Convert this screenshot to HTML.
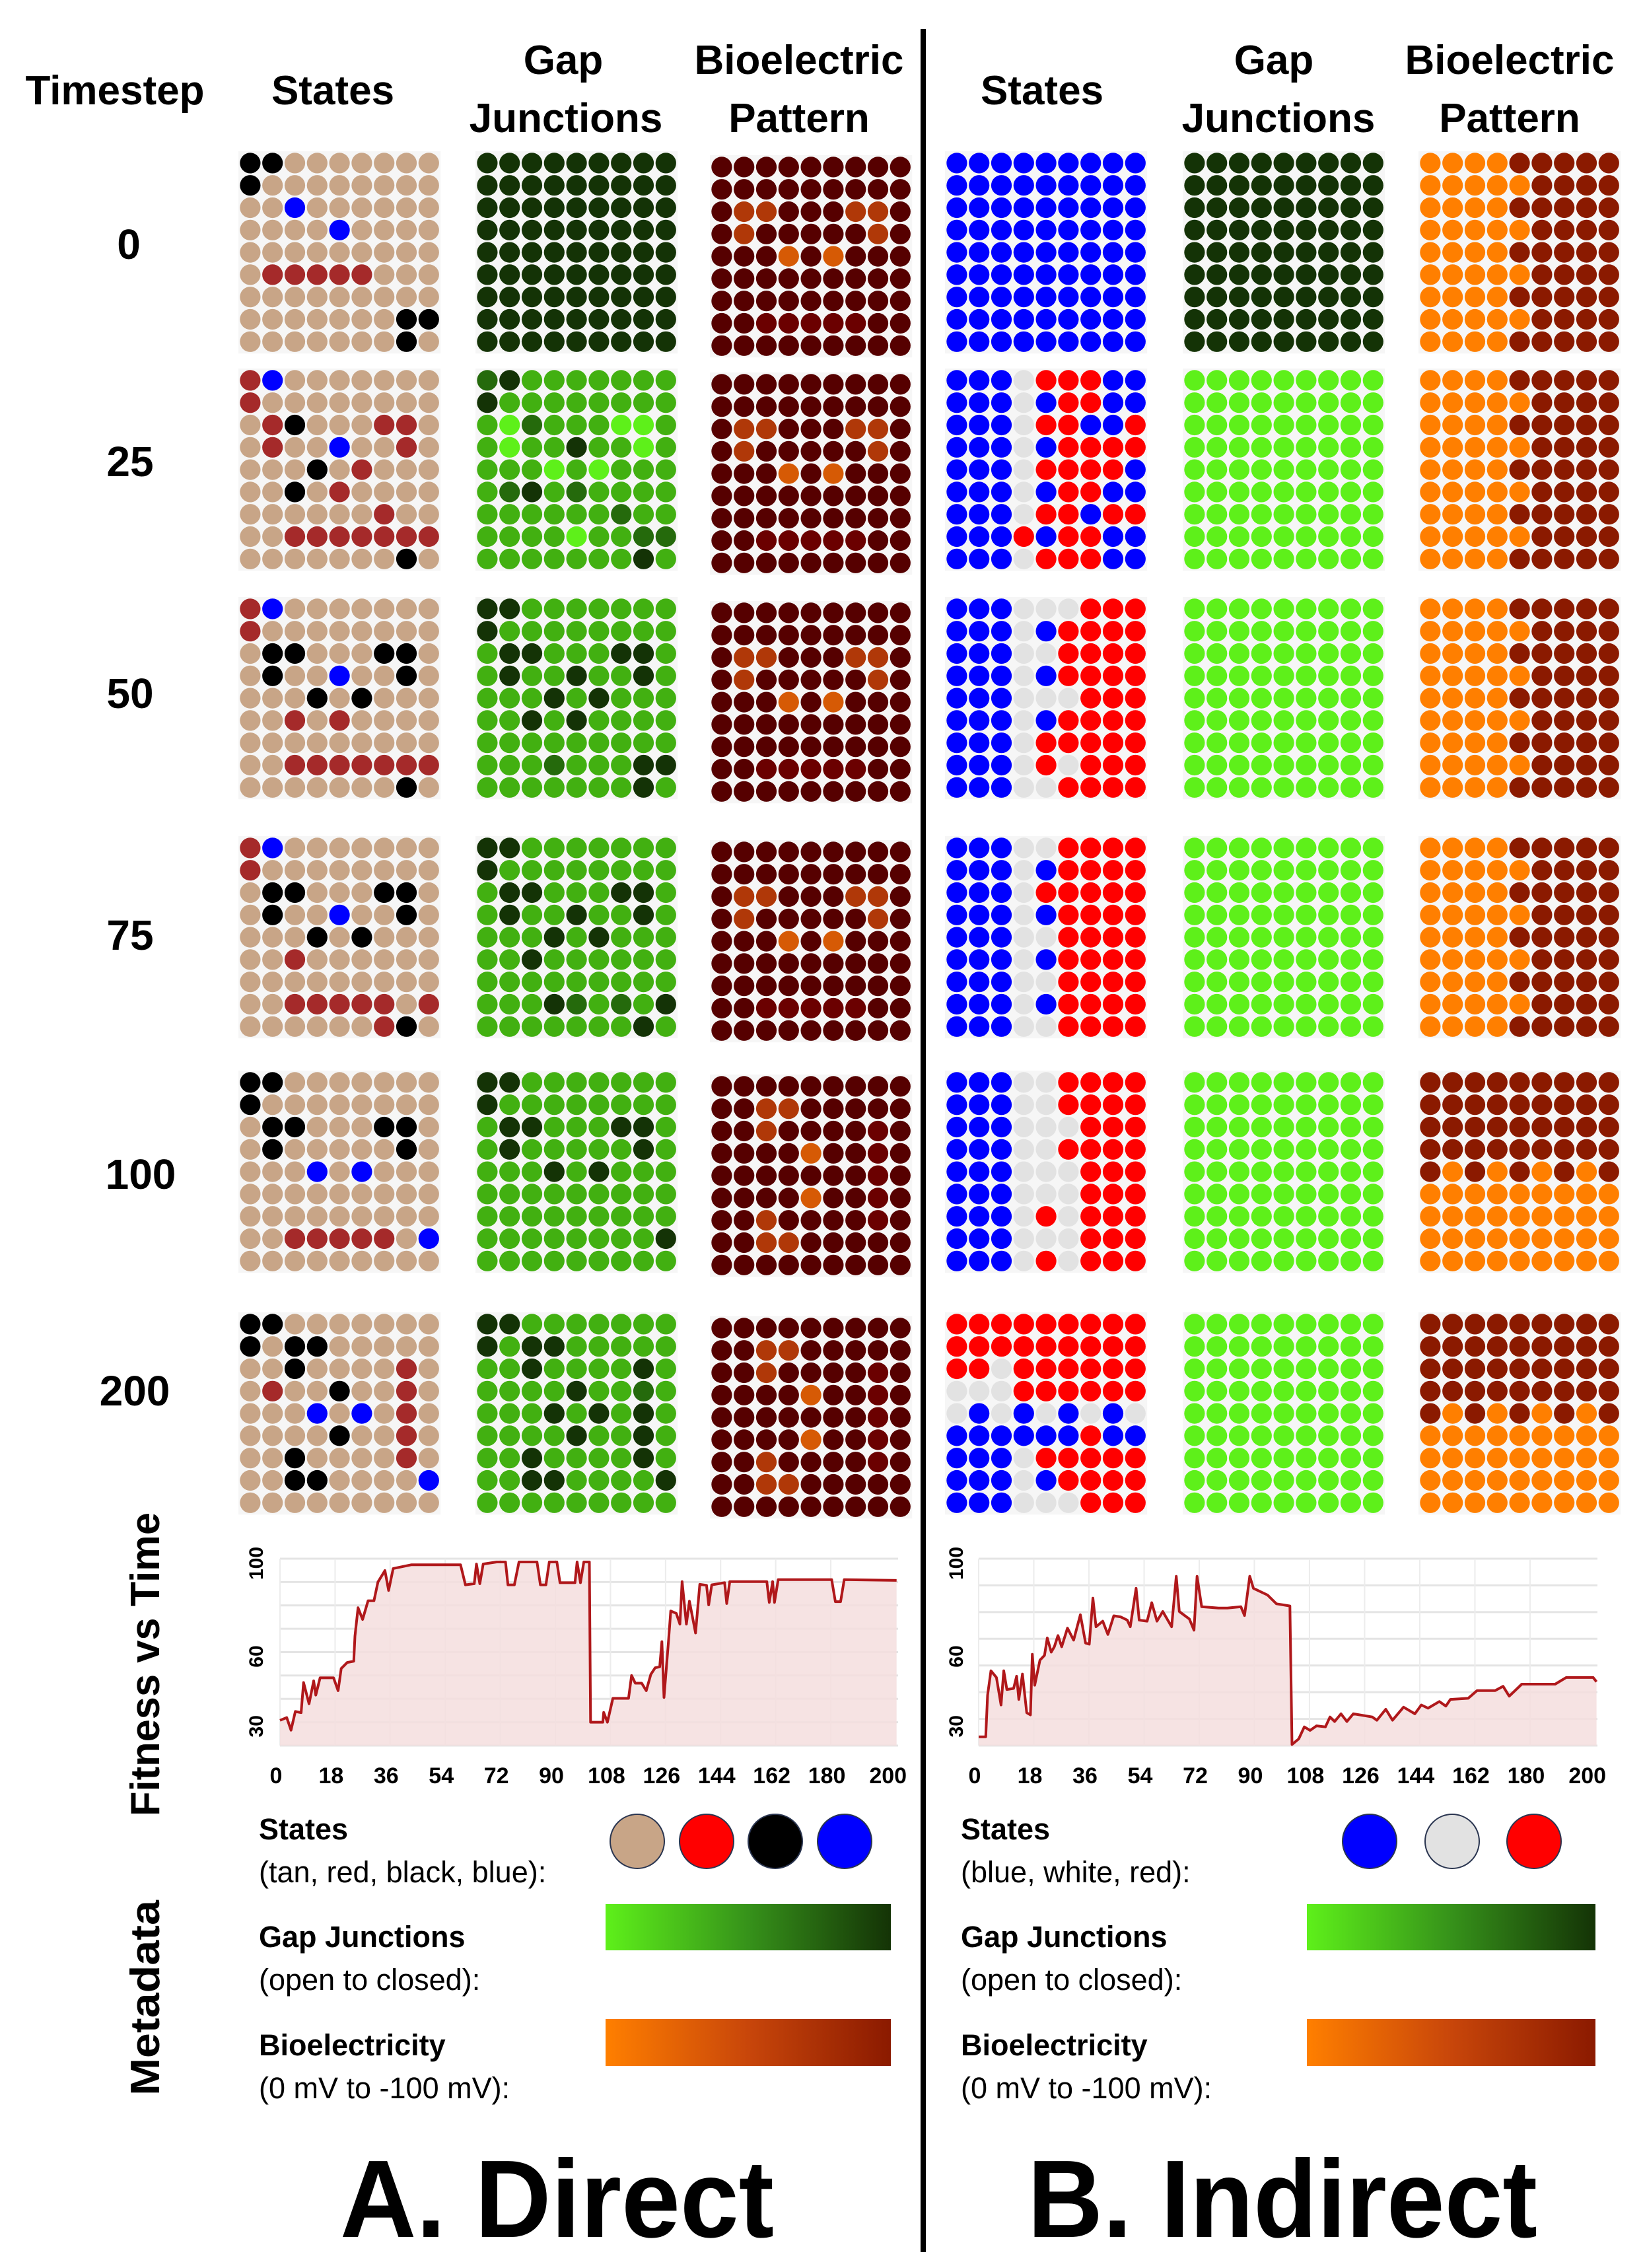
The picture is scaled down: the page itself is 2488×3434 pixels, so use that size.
<!DOCTYPE html>
<html><head><meta charset="utf-8"><style>
html,body{margin:0;padding:0;background:#fff;}
svg{display:block;}
text{font-family:"Liberation Sans",sans-serif;}
</style></head><body>
<svg id="fig" xmlns="http://www.w3.org/2000/svg" width="2488" height="3434" viewBox="0 0 2488 3434">
<rect x="0" y="0" width="2488" height="3434" fill="#fff"/>
<g id="headers" font-weight="bold" font-size="62" text-anchor="middle" fill="#000">
 <text x="174" y="158">Timestep</text>
 <text x="504" y="158">States</text>
 <text x="853" y="112">Gap</text>
 <text x="857" y="200">Junctions</text>
 <text x="1210" y="112">Bioelectric</text>
 <text x="1210" y="200">Pattern</text>
 <text x="1578" y="158">States</text>
 <text x="1929" y="112">Gap</text>
 <text x="1936" y="200">Junctions</text>
 <text x="2286" y="112">Bioelectric</text>
 <text x="2286" y="200">Pattern</text>
</g>
<rect x="1394" y="44" width="8" height="3366" fill="#000"/>
<g id="grids"></g>
<g id="timesteps" font-weight="bold" font-size="64" text-anchor="middle"></g>
<g id="charts"></g>
<g font-weight="bold" font-size="62" text-anchor="middle">
 <text transform="translate(241,2520) rotate(-90)" textLength="460" lengthAdjust="spacingAndGlyphs">Fitness vs Time</text>
 <text transform="translate(241,3025) rotate(-90)" textLength="296" lengthAdjust="spacingAndGlyphs">Metadata</text>
</g>
<defs>
 <linearGradient id="gGreen" x1="0" x2="1" y1="0" y2="0"><stop offset="0" stop-color="#5ef01a"/><stop offset="0.5" stop-color="#36921a"/><stop offset="1" stop-color="#143306"/></linearGradient>
 <linearGradient id="gOrange" x1="0" x2="1" y1="0" y2="0"><stop offset="0" stop-color="#ff7f00"/><stop offset="0.5" stop-color="#c8460a"/><stop offset="1" stop-color="#8b1a00"/></linearGradient>
</defs>
<g id="legends" font-size="45"></g>
<g font-weight="bold" font-size="167">
 <text x="515" y="3387" textLength="657" lengthAdjust="spacingAndGlyphs">A. Direct</text>
 <text x="1556" y="3387" textLength="772" lengthAdjust="spacingAndGlyphs">B. Indirect</text>
</g>
</svg>
<script>
// ---------- grid data ----------
const timestepLabels = ["0","25","50","75","100","200"];
const timestepLabelX = [195,197,197,197,213,204];
const timestepBaselines = [392,721,1072,1438,1800,2128];
const rowTops = [230,559,905,1267,1622,1988];

const directStates = [
 ["KKTTTTTTT","KTTTTTTTT","TTBTTTTTT","TTTTBTTTT","TTTTTTTTT","TRRRRRTTT","TTTTTTTTT","TTTTTTTKK","TTTTTTTKT"],
 ["RBTTTTTTT","RTTTTTTTT","TRKTTTRRT","TRTTBTTRT","TTTKTRTTT","TTKTRTTTT","TTTTTTRTT","TTRRRRRRR","TTTTTTTKT"],
 ["RBTTTTTTT","RTTTTTTTT","TKKTTTKKT","TKTTBTTKT","TTTKTKTTT","TTRTRTTTT","TTTTTTTTT","TTRRRRRRR","TTTTTTTKT"],
 ["RBTTTTTTT","RTTTTTTTT","TKKTTTKKT","TKTTBTTKT","TTTKTKTTT","TTRTTTTTT","TTTTTTTTT","TTRRRRRTR","TTTTTTRKT"],
 ["KKTTTTTTT","KTTTTTTTT","TKKTTTKKT","TKTTTTTKT","TTTBTBTTT","TTTTTTTTT","TTTTTTTTT","TTRRRRRTB","TTTTTTTTT"],
 ["KKTTTTTTT","KTKKTTTTT","TTKTTTTRT","TRTTKTTRT","TTTBTBTRT","TTTTKTTRT","TTKTTTTRT","TTKKTTTTB","TTTTTTTTT"]
];
const directGap = [
 ["DDDDDDDDD","DDDDDDDDD","DDDDDDDDD","DDDDDDDDD","DDDDDDDDD","DDDDDDDDD","DDDDDDDDD","DDDDDDDDD","DDDDDDDDD"],
 ["MDGGGGGGG","DGGGGGGGG","GLMGGGLLG","GLGGDGGLG","GGGLGLGGG","GMDGMGGGG","GGGGGGMGG","GGGGLGGMM","GGGGGGGDG"],
 ["DDGGGGGGG","DGGGGGGGG","GDDGGGDDG","GDGGDGGDG","GGGDGDGGG","GGDGDGGGG","GGGGGGGGG","GGGMGGGDD","GGGGGGGDG"],
 ["DDGGGGGGG","DGGGGGGGG","GDDGGGDDG","GDGGDGGDG","GGGDGDGGG","GGDGGGGGG","GGGGGGGGG","GGGDMGMGD","GGGGGGGDG"],
 ["DDGGGGGGG","DGGGGGGGG","GDDGGGDDG","GDGGGGGDG","GGGDGDGGG","GGGGGGGGG","GGGGGGGGG","GGGGGGGGD","GGGGGGGGG"],
 ["DDGGGGGGG","DGDDGGGGG","GGDGGGGDG","GGGGDGGMG","GGGDGDGDG","GGGGDGGDG","GGDGGGGDG","GGDDGGGGD","GGGGGGGGG"]
];
const directBio = [
 ["NNNNNNNNN","NNNNNNNNN","NOONNNOON","NONNNNNON","NNNYNYNNN","NNNNNNNNN","NNNNNNNNN","NNPPPPPNN","NNNNNNNNN"],
 ["NNNNNNNNN","NNNNNNNNN","NOONNNOON","NONNNNNON","NNNYNYNNN","NNNNNNNNN","NNNNNNNNN","NNPPPPPNN","NNNNNNNNN"],
 ["NNNNNNNNN","NNNNNNNNN","NOONNNOON","NONNNNNON","NNNYNYNNN","NNNNNNNNN","NNNNNNNNN","NNPPPPPNN","NNNNNNNNN"],
 ["NNNNNNNNN","NNNNNNNNN","NOONNNOON","NONNNNNON","NNNYNYNNN","NNNNNNNNN","NNNNNNNNN","NNPPPPPNN","NNNNNNNNN"],
 ["NNNNNNNNN","NNOONNNNN","NNONNNNPN","NNNNYNNPN","NNNNNNNPN","NNNNYNNPN","NNONNNNPN","NNOONNNNN","NNNNNNNNN"],
 ["NNNNNNNNN","NNOONNNNN","NNONNNNPN","NNNNYNNPN","NNNNNNNPN","NNNNYNNPN","NNONNNNPN","NNOONNNNN","NNNNNNNNN"]
];
const indirectStates = [
 ["BBBBBBBBB","BBBBBBBBB","BBBBBBBBB","BBBBBBBBB","BBBBBBBBB","BBBBBBBBB","BBBBBBBBB","BBBBBBBBB","BBBBBBBBB"],
 ["BBBWRRRBB","BBBWBRRBB","BBBWRRBBR","BBBWBRRRR","BBBWRRRRB","BBBWBRRBB","BBBWRRBRR","BBBRBRRBB","BBBWRRRBB"],
 ["BBBWWWRRR","BBBWBRRRR","BBBWWRRRR","BBBWBRRRR","BBBWWWRRR","BBBWBRRRR","BBBWRRRRR","BBBWRWRRR","BBBWWRRRR"],
 ["BBBWWRRRR","BBBWBRRRR","BBBWRRRRR","BBBWBRRRR","BBBWWRRRR","BBBWBRRRR","BBBWWRRRR","BBBWBRRRR","BBBWWRRRR"],
 ["BBBWWRRRR","BBBWWRRRR","BBBWWWRRR","BBBWWRRRR","BBBWWWRRR","BBBWWWRRR","BBBWRWRRR","BBBWWWRRR","BBBWRWRRR"],
 ["RRRRRRRRR","RRRRRRRRR","RRWRRRRRR","WWWRRRRRR","WBWBWBWBW","BBBBBBRBB","BBBWRRRRR","BBBWBRRRR","BBBWWWRRR"]
];
const indirectGap = [
 ["DDDDDDDDD","DDDDDDDDD","DDDDDDDDD","DDDDDDDDD","DDDDDDDDD","DDDDDDDDD","DDDDDDDDD","DDDDDDDDD","DDDDDDDDD"],
 ["LLLLLLLLL","LLLLLLLLL","LLLLLLLLL","LLLLLLLLL","LLLLLLLLL","LLLLLLLLL","LLLLLLLLL","LLLLLLLLL","LLLLLLLLL"],
 ["LLLLLLLLL","LLLLLLLLL","LLLLLLLLL","LLLLLLLLL","LLLLLLLLL","LLLLLLLLL","LLLLLLLLL","LLLLLLLLL","LLLLLLLLL"],
 ["LLLLLLLLL","LLLLLLLLL","LLLLLLLLL","LLLLLLLLL","LLLLLLLLL","LLLLLLLLL","LLLLLLLLL","LLLLLLLLL","LLLLLLLLL"],
 ["LLLLLLLLL","LLLLLLLLL","LLLLLLLLL","LLLLLLLLL","LLLLLLLLL","LLLLLLLLL","LLLLLLLLL","LLLLLLLLL","LLLLLLLLL"],
 ["LLLLLLLLL","LLLLLLLLL","LLLLLLLLL","LLLLLLLLL","LLLLLLLLL","LLLLLLLLL","LLLLLLLLL","LLLLLLLLL","LLLLLLLLL"]
];
const indirectBio = [
 ["OOOODDDDD","OOOOODDDD","OOOODDDDD","OOOOODDDD","OOOODDDDD","OOOOODDDD","OOOODDDDD","OOOOODDDD","OOOODDDDD"],
 ["OOOODDDDD","OOOOODDDD","OOOODDDDD","OOOOODDDD","OOOODDDDD","OOOOODDDD","OOOODDDDD","OOOOODDDD","OOOODDDDD"],
 ["OOOODDDDD","OOOOODDDD","OOOODDDDD","OOOOODDDD","OOOODDDDD","OOOOODDDD","OOOODDDDD","OOOOODDDD","OOOODDDDD"],
 ["OOOODDDDD","OOOOODDDD","OOOODDDDD","OOOOODDDD","OOOODDDDD","OOOOODDDD","OOOODDDDD","OOOOODDDD","OOOODDDDD"],
 ["DDDDDDDDD","DDDDDDDDD","DDDDDDDDD","DDDDDDDDD","DODODODOD","OOOOOOOOO","OOOOOOOOO","OOOOOOOOO","OOOOOOOOO"],
 ["DDDDDDDDD","DDDDDDDDD","DDDDDDDDD","DDDDDDDDD","DODODODOD","OOOOOOOOO","OOOOOOOOO","OOOOOOOOO","OOOOOOOOO"]
];

// ---------- chart data ----------
const fitnessDirectX = [0,2.2,3.6,5,6.9,7.7,9.5,11,11.7,13.1,17.5,19,20,22,24.1,24.5,25.5,27,28.8,30.7,32,34.3,35.5,37,43,59,60.6,63.5,64.2,65.3,66.4,70.8,73.7,74.5,76.6,78.1,84,85.1,86.9,88,90.5,91.5,96.4,97.1,98.2,99.3,101.1,101.5,105.5,105.8,107,108.8,113.9,114.9,116.1,118.2,119.7,121.2,122.6,124.1,124.8,125.5,127,127.7,129.5,130.7,131.4,132.8,133.8,135.8,137.2,139.4,140.1,141.1,145.3,146,147,159.1,159.9,161,161.6,162.8,180.3,181.5,183.2,184.4,201.5];
const fitnessDirectY = [30.8,32,26.6,34.6,34.1,47,37.9,47.7,41.6,49,49,43.5,53,55.6,56.1,66.8,79,74,82,82,90,94.9,86.4,95.8,97.4,97.4,88.8,89.3,97.7,89.3,97.7,98.6,98.6,88.8,88.8,98.6,98.6,88.8,88.8,98.6,98.6,89.7,89.7,98.6,89.7,98.6,98.6,30,30,34.2,30,40.2,40.2,50,46.7,46.7,43.5,50.5,53.3,53.7,64.5,40.6,65.4,77.6,76.6,72,90.2,72,81.8,68.2,89,88.6,80.2,88.8,89.7,80.8,90.2,90.2,81.3,90.2,81.3,91,91,81.6,81.6,91,90.7];
const fitnessIndirectX = [0,2.3,2.9,4,5.8,7.3,8.2,9.2,11.4,12.4,13.1,14.3,15.7,16.9,17.5,18.3,20,21.5,22.4,23.7,24.7,25.9,27.1,29,31,33.2,34.9,36.1,37.3,38.3,40.5,42.2,44.1,46.3,48.5,49.5,51.4,52.4,55,56.5,58.2,60.1,63,64.5,65.5,68.8,70.3,71.3,72.8,78.3,81.2,85.6,86.8,88.5,89.7,94.3,97.2,101.6,102.3,104.5,106.3,108.2,110.3,113.2,114.7,116.2,118.3,120.2,122.3,128.5,130,132.9,135.1,138.7,142.4,144.5,146.7,150.4,152.5,154,159.8,162.7,168.6,171.2,173.2,177.3,188.2,191.8,200.6,201.7];
const fitnessIndirectY = [33.3,33.3,48.9,58,55.5,45.2,58,51,51.4,56,47.3,56.8,42.3,41.5,64.2,52.6,62,63.8,70.3,65,67,71.2,67,74,69.5,79,68.4,68,85.2,74.5,76.6,71.6,78.6,78.2,77,74.5,88.9,77,76.6,83.5,76.6,80.2,74.5,93.4,80.2,77.4,73.2,93.4,82,81.5,81.5,82,78.7,93.4,88.9,86.4,83.1,82.3,30.4,32.5,37,35.7,37.4,37,40.7,39,41.9,39,41.9,40.7,39.5,43.6,39.5,44.4,41.9,45.2,44,46.5,44.8,47.3,47.7,50.6,50.6,52.2,48.5,53,53,55.5,55.5,53.9];
const xTickValues = [0,18,36,54,72,90,108,126,144,162,180,200];
const xTickLabels = ["0","18","36","54","72","90","108","126","144","162","180","200"];
const xGridValues = [0,18,36,54,72,90,108,126,144,162,180];
const yTickValues = [100,60,30];
const yTickLabels = ["100","60","30"];
const directGridValues = [20,30,40,50,60,70,80,90,100];
const indirectGridValues = [30,40,50,60,70,80,90,100];

const NS = "http://www.w3.org/2000/svg";
function mk(tag, attrs, parent){
  const e = document.createElementNS(NS, tag);
  for (const k in attrs) e.setAttribute(k, attrs[k]);
  parent.appendChild(e);
  return e;
}
const colorMap = {
  states: {T:"#c8a587",R:"#a52a2a",K:"#000000",B:"#0000ff"},
  gap: {D:"#143306",G:"#42b011",M:"#256a0c",L:"#5ef01a"},
  bio: {N:"#560000",P:"#6b0000",O:"#b03808",Y:"#d65a05"},
  istates: {B:"#0000ff",W:"#e2e2e2",R:"#ff0000"},
  ibio: {O:"#ff7f00",D:"#8b1a00"}
};
const PITCH = 33.8, RAD = 15.6;
function drawGrid(parent, x0, y0, rows, cmap, name){
  const g = mk("g", {}, parent);
  
  
  const bg = mk("rect", {x:x0-1, y:y0-1, width:9*PITCH+2, height:9*PITCH+2, fill:"#f6f6f6"}, g);
  
  
  rows.forEach((row, r) => {
    for (let c = 0; c < row.length; c++) {
      const ci = mk("circle", {cx: x0 + PITCH*(c+0.5), cy: y0 + PITCH*(r+0.5), r: RAD, fill: cmap[row[c]]}, g);
      
      
    }
  });
}
const gridsG = document.getElementById("grids");
const tsG = document.getElementById("timesteps");
rowTops.forEach((top, i) => {
  drawGrid(gridsG, 362, top, directStates[i], colorMap.states, "direct-states-grid-t" + timestepLabels[i]);
  drawGrid(gridsG, 721, top, directGap[i], colorMap.gap, "direct-gap-grid-t" + timestepLabels[i]);
  drawGrid(gridsG, 1076, top + 6, directBio[i], colorMap.bio, "direct-bio-grid-t" + timestepLabels[i]);
  drawGrid(gridsG, 1432, top, indirectStates[i], colorMap.istates, "indirect-states-grid-t" + timestepLabels[i]);
  drawGrid(gridsG, 1792, top, indirectGap[i], colorMap.gap, "indirect-gap-grid-t" + timestepLabels[i]);
  drawGrid(gridsG, 2149, top, indirectBio[i], colorMap.ibio, "indirect-bio-grid-t" + timestepLabels[i]);
  const t = mk("text", {x: timestepLabelX[i], y: timestepBaselines[i]}, tsG);
  t.textContent = timestepLabels[i];
  
  
});

// ---------- charts ----------
const chartsG = document.getElementById("charts");
function labelY(v){ return 2367 + (100 - v) * 3.525; }
function drawChart(cfg){
  const g = mk("g", {}, chartsG);
  
  
  const xs = v => cfg.x0 + v * (cfg.x1 - cfg.x0) / 202;
  const ys = v => cfg.yTop + (100 - v) * (cfg.yBot - cfg.yTop) / (100 - cfg.yMin);
  cfg.gridVals.forEach(v => {
    const l = mk("line", {x1: cfg.x0, x2: cfg.x1, y1: ys(v), y2: ys(v), stroke: "#e4e4e4", "stroke-width": 3}, g);
    
    
  });
  xGridValues.forEach(v => {
    const l = mk("line", {x1: xs(v), x2: xs(v), y1: cfg.yTop, y2: cfg.yBot, stroke: "#ececec", "stroke-width": 2}, g);
    
    
  });
  let d = "";
  cfg.xs.forEach((v, i) => { d += (i ? "L" : "M") + xs(v).toFixed(1) + "," + ys(cfg.ys[i]).toFixed(1); });
  const area = mk("path", {d: d + "L" + xs(cfg.xs[cfg.xs.length-1]).toFixed(1) + "," + cfg.yBot + "L" + xs(cfg.xs[0]).toFixed(1) + "," + cfg.yBot + "Z", fill: "#f5dede", opacity: 0.85}, g);
  
  
  const line = mk("path", {d: d, fill: "none", stroke: "#b0181b", "stroke-width": 4, "stroke-linejoin": "round"}, g);
  
  
  xTickValues.forEach((v, i) => {
    const t = mk("text", {x: xs(v) - 6, y: 2700, "text-anchor": "middle", "font-size": 34, "font-weight": "bold", "font-family": "Liberation Sans Narrow, Liberation Sans, sans-serif"}, g);
    t.textContent = xTickLabels[i];
    
    
  });
  yTickValues.forEach((v, i) => {
    const t = mk("text", {transform: "translate(" + (cfg.labelX + 11) + "," + labelY(v) + ") rotate(-90)", "text-anchor": "middle", "font-size": 30, "font-weight": "bold"}, g);
    t.textContent = yTickLabels[i];
    
    
  });
}
drawChart({name: "direct-fitness-chart", x0: 424, x1: 1360, yTop: 2360, yBot: 2643, yMin: 20, gridVals: directGridValues, xs: fitnessDirectX, ys: fitnessDirectY, labelX: 387});
drawChart({name: "indirect-fitness-chart", x0: 1482, x1: 2419, yTop: 2360, yBot: 2643, yMin: 30, gridVals: indirectGridValues, xs: fitnessIndirectX, ys: fitnessIndirectY, labelX: 1447});

// ---------- legends ----------
const legendsG = document.getElementById("legends");
const directLegendColors = ["#c8a587","#ff0000","#000000","#0000ff"];
const directLegendCx = [965,1070,1174,1279];
const indirectLegendColors = ["#0000ff","#e2e2e2","#ff0000"];
const indirectLegendCx = [2074,2199,2323];
function drawLegend(cfg){
  const g = mk("g", {}, legendsG);
  
  
  const lines = [
    ["States", 2785, true], [cfg.statesSub, 2850, false],
    ["Gap Junctions", 2948, true], ["(open to closed):", 3013, false],
    ["Bioelectricity", 3112, true], ["(0 mV to -100 mV):", 3177, false]
  ];
  lines.forEach(l => {
    const t = mk("text", {x: cfg.tx, y: l[1], "font-weight": l[2] ? "bold" : "normal"}, g);
    t.textContent = l[0];
    
    
  });
  cfg.colors.forEach((c, i) => {
    const ci = mk("circle", {cx: cfg.cx[i], cy: 2788, r: 41, fill: c, stroke: "#2a3550", "stroke-width": 2}, g);
    
    
  });
  const gb = mk("rect", {x: cfg.bx0, y: 2883, width: cfg.bx1 - cfg.bx0, height: 70, fill: "url(#gGreen)"}, g);
  
  
  const ob = mk("rect", {x: cfg.bx0, y: 3057, width: cfg.bx1 - cfg.bx0, height: 71, fill: "url(#gOrange)"}, g);
  
  
}
drawLegend({name: "direct-legend", tx: 392, statesSub: "(tan, red, black, blue):", colors: directLegendColors, cx: directLegendCx, bx0: 917, bx1: 1349});
drawLegend({name: "indirect-legend", tx: 1455, statesSub: "(blue, white, red):", colors: indirectLegendColors, cx: indirectLegendCx, bx0: 1979, bx1: 2416});
</script>
</body></html>
